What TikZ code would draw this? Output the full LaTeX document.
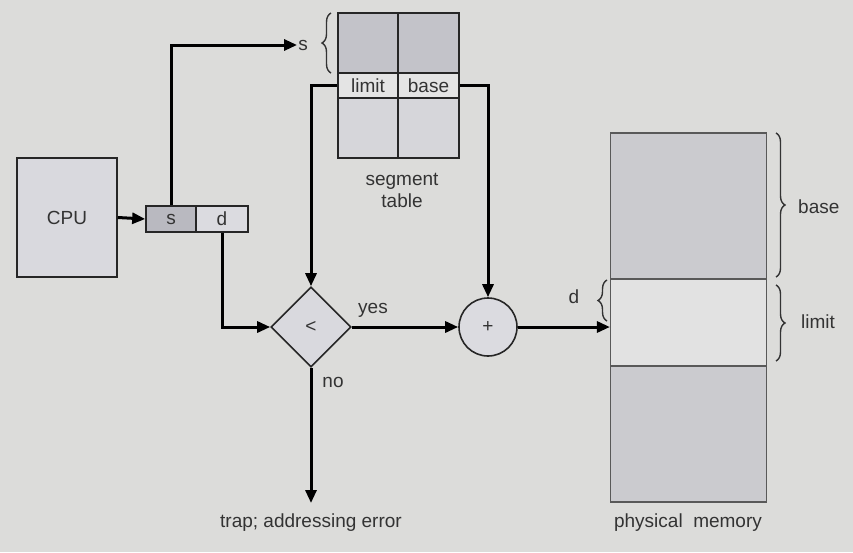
\documentclass[tikz,border=0pt]{standalone}
\usepackage{fontspec}
\setmainfont{Liberation Sans}
\usetikzlibrary{arrows.meta,shapes.geometric,decorations.pathreplacing}
\definecolor{bg}{HTML}{DCDCDA}
\definecolor{txt}{HTML}{333333}
\definecolor{boxfill}{HTML}{D9D9DE}
\definecolor{darkcell}{HTML}{B9B9C0}
\definecolor{lightcell}{HTML}{DBDBE0}
\definecolor{tabtop}{HTML}{C3C3C9}
\definecolor{tabrow}{HTML}{E4E4E4}
\definecolor{tabbot}{HTML}{D6D6DA}
\definecolor{memgray}{HTML}{CBCBCF}
\definecolor{memmid}{HTML}{E2E2E2}
\begin{document}
\begin{tikzpicture}[x=1pt,y=-1pt,
  every node/.style={text=txt,font=\fontsize{19}{22}\selectfont},
  cell/.style={draw=black!85,line width=1.6pt,inner sep=0pt,anchor=center},
  conn/.style={line width=3pt,-{Triangle[length=13pt,width=11pt]}},
  brc/.style={draw=txt,line width=1.4pt,decorate,decoration={brace,amplitude=9pt}},
  lbl/.style={inner sep=1pt}
]
\fill[bg] (0,0) rectangle (853,552);
\useasboundingbox (0,0) rectangle (853,552);

% CPU
\node[cell,fill=boxfill,minimum width=100pt,minimum height=119pt] (cpu) at (67,217.5) {CPU};
% logical address
\node[cell,fill=darkcell,minimum width=50pt,minimum height=26pt] (sa) at (171,219) {s};
\node[cell,fill=lightcell,minimum width=52pt,minimum height=26pt] (da) at (222,219) {d};

% segment table
\node[cell,fill=tabtop,minimum width=60pt,minimum height=60pt] (tl) at (368,43) {};
\node[cell,fill=tabtop,minimum width=61pt,minimum height=60pt] (tr) at (428.5,43) {};
\node[cell,fill=tabrow,minimum width=60pt,minimum height=25pt] (lim) at (368,85.5) {limit};
\node[cell,fill=tabrow,minimum width=61pt,minimum height=25pt] (bas) at (428.5,85.5) {base};
\node[cell,fill=tabbot,minimum width=60pt,minimum height=60pt] (bl) at (368,128) {};
\node[cell,fill=tabbot,minimum width=61pt,minimum height=60pt] (br) at (428.5,128) {};
\node[align=center,font=\fontsize{19}{22}\selectfont] (segtxt) at (402,190) {segment\\table};
\node[lbl] (slab) at (303,45) {s};
\draw[brc] (331,73) -- (331,13);

% comparator and adder
\node[cell,diamond,fill=boxfill,minimum width=80pt,minimum height=80pt] (lt) at (311,327) {<};
\node[cell,circle,fill=lightcell,minimum size=58pt] (plus) at (488,327) {+};

% physical memory
\node[cell,line width=1.2pt,draw=black!65,fill=memgray,minimum width=156pt,minimum height=146pt] (mtop) at (688.5,206) {};
\node[cell,line width=1.2pt,draw=black!65,fill=memmid,minimum width=156pt,minimum height=87pt] (mmid) at (688.5,322.5) {};
\node[cell,line width=1.2pt,draw=black!65,fill=memgray,minimum width=156pt,minimum height=136pt] (mbot) at (688.5,434) {};
\node (memtxt) at (688,523) {physical\ \ memory};
\draw[brc] (776,133) -- (776,277);
\node[lbl,anchor=west] (basetxt) at (797,207) {base};
\draw[brc] (776,285) -- (776,361);
\node[lbl,anchor=west] (limtxt) at (800,322) {limit};
\draw[brc] (607,321) -- (607,280);
\node[lbl] (dlab) at (574,297) {d};

% labels
\node[lbl] (yes) at (373,310) {yes};
\node[lbl] (no) at (333,382) {no};
\node (trap) at (311,523) {trap; addressing error};
\coordinate (trapend) at (311,503);

% connectors
\draw[conn] (cpu.east) -- (sa.west);
\draw[conn] (sa.north) |- (slab.west);
\draw[conn] (lim.west) -| (lt.north);
\draw[conn] (bas.east) -| (plus.north);
\draw[conn] (da.south) |- (lt.west);
\draw[conn] (lt.east) -- (plus.west);
\draw[conn] (lt.south) -- (trapend);
\draw[conn] (plus.east) -- (plus.east -| mmid.west);
\end{tikzpicture}
\end{document}
